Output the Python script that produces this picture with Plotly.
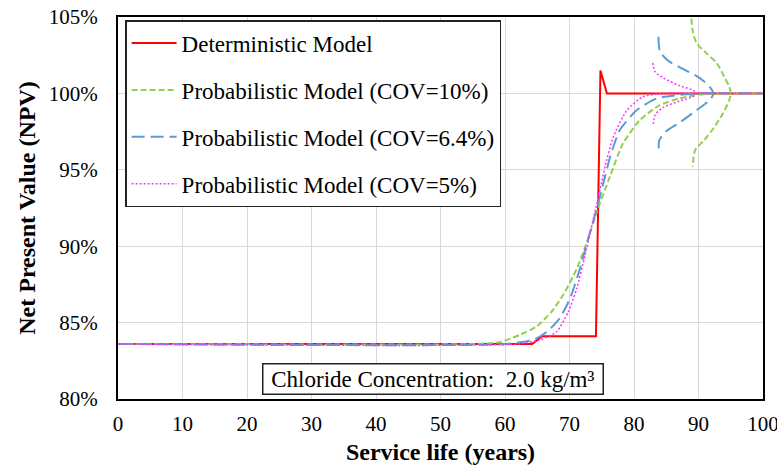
import plotly.graph_objects as go

# ---------------- data ----------------
det_x = [0, 64.2, 65.7, 74.1, 74.8, 75.8, 100]
det_y = [83.6, 83.6, 84.1, 84.1, 101.5, 100.0, 100.0]

green_x = [0, 55, 59.2, 62.3, 64.9, 67.2, 69.0, 71.1, 72.7, 74.2, 76.3, 78.3, 80.9, 84.0, 87.1, 90.2, 93.0, 95.0, 100]
green_y = [83.6, 83.6, 83.72, 84.2, 84.74, 85.71, 86.8, 88.5, 90.26, 92.2, 94.6, 96.73, 98.25, 99.23, 99.67, 99.93, 99.98, 100.0, 100.0]

blue_x = [0, 60, 64.4, 66.5, 68.5, 70.1, 71.6, 72.9, 74.2, 75.3, 76.3, 77.8, 80.4, 83.5, 87.1, 90.0, 100]
blue_y = [83.6, 83.6, 83.87, 84.4, 85.3, 86.6, 88.5, 90.5, 92.4, 94.2, 95.85, 97.6, 98.9, 99.67, 99.9, 100.0, 100.0]

pink_x = [0, 62, 65.4, 68.0, 69.8, 71.1, 72.4, 73.7, 75.0, 75.5, 76.8, 78.9, 81.4, 84.6, 100]
pink_y = [83.6, 83.6, 83.87, 84.4, 85.7, 87.2, 89.4, 91.8, 94.2, 95.2, 97.16, 98.9, 99.78, 100.0, 100.0]

green_bell_x = [88.9, 89.1, 89.7, 91.3, 92.8, 94.1, 94.8, 95.0, 94.8, 93.8, 92.3, 90.8, 89.5, 89.1]
green_bell_y = [104.9, 104.1, 103.3, 102.6, 102.0, 101.0, 100.4, 100.0, 99.6, 98.7, 97.7, 96.9, 96.3, 95.2]

blue_bell_x = [83.8, 84.0, 85.1, 87.6, 90.2, 91.8, 92.3, 91.8, 89.7, 87.1, 84.9, 83.9, 83.85]
blue_bell_y = [103.7, 102.8, 102.2, 101.6, 101.0, 100.4, 100.0, 99.6, 98.9, 98.1, 97.5, 96.9, 96.3]

pink_bell_x = [82.9, 83.3, 84.6, 87.1, 89.2, 89.7, 89.2, 87.1, 84.6, 83.3, 83.0]
pink_bell_y = [102.0, 101.4, 101.0, 100.5, 100.2, 100.0, 99.8, 99.5, 99.1, 98.6, 98.0]

x_ticks = [0, 10, 20, 30, 40, 50, 60, 70, 80, 90, 100]
y_ticks = [80, 85, 90, 95, 100, 105]
y_tick_text = ["80%", "85%", "90%", "95%", "100%", "105%"]

names = ["Deterministic Model",
         "Probabilistic Model (COV=10%)",
         "Probabilistic Model (COV=6.4%)",
         "Probabilistic Model (COV=5%)"]

RED = "#FF0000"
GREEN = "#92D050"
BLUE = "#5B9BD5"
PINK = "#FF33FF"
SERIF = "Liberation Serif"

fig = go.Figure()

fig.add_trace(go.Scatter(x=det_x, y=det_y, mode="lines", name=names[0],
                         line=dict(color=RED, width=2), legendgroup="a"))
fig.add_trace(go.Scatter(x=green_x, y=green_y, mode="lines", name=names[1],
                         line=dict(color=GREEN, width=2, dash="6px,3px", shape="spline", smoothing=0.6),
                         legendgroup="b"))
fig.add_trace(go.Scatter(x=blue_x, y=blue_y, mode="lines", name=names[2],
                         line=dict(color=BLUE, width=2, dash="13px,6px", shape="spline", smoothing=0.6),
                         legendgroup="c"))
fig.add_trace(go.Scatter(x=pink_x, y=pink_y, mode="lines", name=names[3],
                         line=dict(color=PINK, width=1.5, dash="2px,2px", shape="spline", smoothing=0.6),
                         legendgroup="d"))

fig.add_trace(go.Scatter(x=green_bell_x, y=green_bell_y, mode="lines", showlegend=False,
                         line=dict(color=GREEN, width=2, dash="6px,3px", shape="spline", smoothing=0.8)))
fig.add_trace(go.Scatter(x=blue_bell_x, y=blue_bell_y, mode="lines", showlegend=False,
                         line=dict(color=BLUE, width=2, dash="13px,6px", shape="spline", smoothing=0.8)))
fig.add_trace(go.Scatter(x=pink_bell_x, y=pink_bell_y, mode="lines", showlegend=False,
                         line=dict(color=PINK, width=1.5, dash="2px,2px", shape="spline", smoothing=0.8)))

fig.add_annotation(x=0.489, y=0.052, xref="paper", yref="paper",
                   xanchor="center", yanchor="middle", showarrow=False,
                   text="\u00a0Chloride Concentration:  2.0 kg/m\u00b3\u00a0",
                   font=dict(family=SERIF, size=23, color="black"),
                   bordercolor="#222222", borderwidth=1.5, borderpad=2,
                   bgcolor="white")

fig.update_layout(
    width=777, height=465,
    margin=dict(l=118, r=14, t=17, b=66),
    paper_bgcolor="white", plot_bgcolor="white",
    font=dict(family=SERIF, size=20, color="black"),
    legend=dict(x=0.011, y=0.992, xanchor="left", yanchor="top",
                bgcolor="white", bordercolor="#222222", borderwidth=1.5,
                font=dict(family=SERIF, size=23, color="black"),
                tracegroupgap=14, traceorder="grouped", itemwidth=45),
    showlegend=True,
)

fig.update_xaxes(range=[0, 100], tickvals=x_ticks, ticks="", showgrid=True,
                 gridcolor="#D9D9D9", gridwidth=1, showline=True, mirror=True,
                 linecolor="black", linewidth=2, zeroline=False, automargin=False,
                 tickfont=dict(family=SERIF, size=21), ticklabelstandoff=5,
                 ticklabeloverflow="allow",
                 title=dict(text="<b>Service life (years)</b>",
                            font=dict(family=SERIF, size=24), standoff=10))
fig.update_yaxes(range=[80, 105], tickvals=y_ticks, ticktext=y_tick_text, ticks="",
                 showgrid=True, gridcolor="#D9D9D9", gridwidth=1, showline=True,
                 mirror=True, linecolor="black", linewidth=2, zeroline=False, automargin=False,
                 tickfont=dict(family=SERIF, size=21), ticklabelstandoff=14,
                 title=dict(text="<b>Net Present Value (NPV)</b>",
                            font=dict(family=SERIF, size=24), standoff=6))

fig.write_html("out.html")
